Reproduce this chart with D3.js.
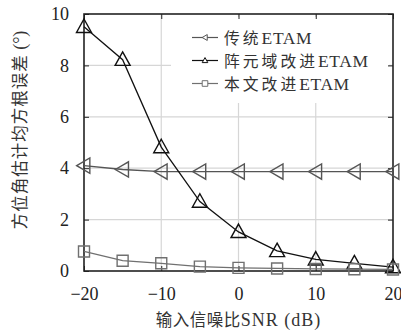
<!DOCTYPE html>
<html><head><meta charset="utf-8">
<script src="https://cdn.jsdelivr.net/npm/d3@7"></script>
<style>
html,body{margin:0;padding:0;background:#fff;}
svg{display:block;}
</style></head>
<body>
<svg id="chart" width="401" height="334"></svg>
<script>
// SNR values (dB)
const snr = [-20, -15, -10, -5, 0, 5, 10, 15, 20];
// RMSE of azimuth estimate (degrees)
const traditional = [4.1, 3.95, 3.87, 3.87, 3.87, 3.87, 3.87, 3.87, 3.87];
const arrayDomain = [9.5, 8.22, 4.82, 2.7, 1.52, 0.78, 0.45, 0.3, 0.15];
const proposed = [0.76, 0.4, 0.3, 0.17, 0.12, 0.1, 0.08, 0.07, 0.06];
const seriesCjk = ["传统", "阵元域改进", "本文改进"];
const seriesSuffix = "ETAM";
const xTicks = [-20, -10, 0, 10, 20];
const yTicks = [0, 2, 4, 6, 8, 10];

const svg = d3.select("#chart");
const m = {left: 84, top: 14, right: 393, bottom: 271};
const x = d3.scaleLinear().domain([-20, 20]).range([m.left, m.right]);
const y = d3.scaleLinear().domain([0, 10]).range([m.bottom, m.top]);
const numFont = "'Liberation Serif', 'DejaVu Serif', serif";
const cjkFont = "'Noto Sans CJK SC', sans-serif";
const ink = "#222";

// grid
const grid = svg.append("g").attr("stroke", "#d6d6d6").attr("stroke-width", 1.2);
xTicks.slice(1, -1).forEach(t => grid.append("line")
  .attr("x1", x(t)).attr("x2", x(t)).attr("y1", m.top).attr("y2", m.bottom));
yTicks.slice(1, -1).forEach(t => grid.append("line")
  .attr("x1", m.left).attr("x2", m.right).attr("y1", y(t)).attr("y2", y(t)));

// legend background hides the grid behind it
svg.append("rect").attr("x", 171).attr("y", 17).attr("width", 218).attr("height", 86)
  .attr("fill", "#fff");

// axes
const xAxis = d3.axisBottom(x).tickValues(xTicks).tickSize(-5).tickPadding(16)
  .tickFormat(d => d < 0 ? "\u2212" + Math.abs(d) : d);
const yAxis = d3.axisLeft(y).tickValues(yTicks).tickSize(-5).tickPadding(15);
const gx = svg.append("g").attr("transform", `translate(0,${m.bottom})`).call(xAxis);
const gy = svg.append("g").attr("transform", `translate(${m.left},0)`).call(yAxis);
[gx, gy].forEach(g => {
  g.select(".domain").remove();
  g.selectAll(".tick line").attr("stroke", ink);
  g.selectAll("text").attr("font-family", numFont).attr("font-size", 18).attr("fill", ink);
});
// mirrored ticks on top and right
const gxTop = svg.append("g").attr("transform", `translate(0,${m.top})`)
  .call(d3.axisTop(x).tickValues(xTicks).tickSize(-5).tickFormat(""));
const gyRight = svg.append("g").attr("transform", `translate(${m.right},0)`)
  .call(d3.axisRight(y).tickValues(yTicks).tickSize(-5).tickFormat(""));
[gxTop, gyRight].forEach(g => { g.select(".domain").remove(); g.selectAll("line").attr("stroke", ink); });

// frame
svg.append("rect").attr("x", m.left).attr("y", m.top)
  .attr("width", m.right - m.left).attr("height", m.bottom - m.top)
  .attr("fill", "none").attr("stroke", ink).attr("stroke-width", 1.6);

const line = d3.line().x((d, i) => x(snr[i])).y(d => y(d));

function triLeft(s) { return `M${-s},0L${s*0.8},${-s*1.05}L${s*0.8},${s*1.05}Z`; }
function triUp(s) { return `M0,${-s*1.05}L${s},${s*0.75}L${-s},${s*0.75}Z`; }
function square(s) { return `M${-s},${-s}H${s}V${s}H${-s}Z`; }

const series = [
  {vals: traditional, color: "#555", marker: triLeft, size: 7.3},
  {vals: arrayDomain, color: "#111", marker: triUp, size: 7.5},
  {vals: proposed, color: "#707070", marker: square, size: 5.5}
];

const plot = svg.append("g");
series.forEach(s => {
  plot.append("path").attr("d", line(s.vals)).attr("fill", "none")
    .attr("stroke", s.color).attr("stroke-width", 1.3);
  plot.selectAll(null).data(s.vals).enter().append("path")
    .attr("transform", (d, i) => `translate(${x(snr[i])},${y(d)})`)
    .attr("d", s.marker(s.size)).attr("fill", "none")
    .attr("stroke", s.color).attr("stroke-width", 1.4);
});

// legend
const lg = svg.append("g");
series.forEach((s, i) => {
  const yy = 37.5 + i * 23;
  lg.append("line").attr("x1", 192).attr("x2", 218).attr("y1", yy).attr("y2", yy)
    .attr("stroke", s.color).attr("stroke-width", 1.2);
  lg.append("path").attr("transform", `translate(205,${yy})`).attr("d", s.marker(2.8))
    .attr("fill", "#fff").attr("stroke", s.color).attr("stroke-width", 1);
  const t = lg.append("text").attr("x", 224).attr("y", yy + 6).attr("fill", "#333");
  t.append("tspan").attr("font-family", cjkFont).attr("font-size", 15.8)
    .attr("letter-spacing", 3).text(seriesCjk[i]);
  t.append("tspan").attr("font-family", numFont).attr("font-size", 17.5)
    .attr("letter-spacing", 0.6).text(seriesSuffix);
});

// axis titles
const xt = svg.append("text").attr("x", x(0)).attr("y", 326).attr("text-anchor", "middle")
  .attr("fill", "#333");
xt.append("tspan").attr("font-family", cjkFont).attr("font-size", 16.5).attr("letter-spacing", 0.5)
  .text("输入信噪比");
xt.append("tspan").attr("font-family", numFont).attr("font-size", 18).attr("letter-spacing", 1)
  .text("SNR (dB)");

const yt = svg.append("text").attr("transform", `translate(26,130) rotate(-90)`)
  .attr("text-anchor", "middle").attr("fill", "#333");
yt.append("tspan").attr("font-family", cjkFont).attr("font-size", 16.5).attr("letter-spacing", 1)
  .text("方位角估计均方根误差");
yt.append("tspan").attr("font-family", numFont).attr("font-size", 18).text(" (°)");
</script>
</body></html>
